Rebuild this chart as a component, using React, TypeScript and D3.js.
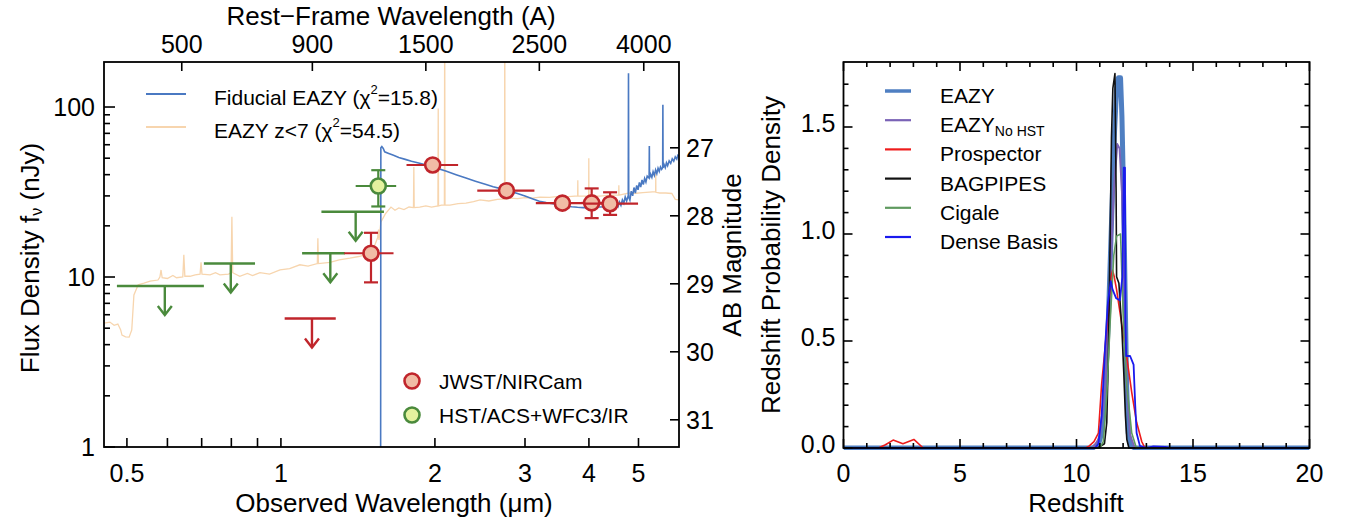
import React, { useEffect, useRef } from 'react';
import * as d3 from 'd3';

const WIDTH = 1346;
const HEIGHT = 521;
const FONT = '"Liberation Sans", Arial, Helvetica, sans-serif';

const zPhot = 11.8;

// observed wavelength (um), flux density (nJy)
const fiducialEazy: [number, number][] = [
  [0.451, 0.2], [1.566, 0.2], [1.568, 57.5], [1.575, 58.5], [1.585, 57.0], [1.595, 54.5],
  [1.62, 53.5], [1.66, 52.0], [1.70, 50.5], [1.75, 49.2], [1.80, 48.0], [1.85, 47.0],
  [1.90, 46.0], [1.95, 45.0], [2.00, 44.0], [2.10, 42.0], [2.20, 40.0], [2.30, 38.2],
  [2.40, 36.6], [2.50, 35.2], [2.60, 34.0], [2.70, 33.0], [2.80, 32.0], [2.90, 31.0],
  [3.00, 30.0], [3.10, 28.9], [3.20, 27.9], [3.30, 27.4], [3.40, 27.0], [3.50, 26.6],
  [3.60, 26.2], [3.70, 25.9], [3.80, 25.7], [3.90, 25.6], [4.00, 25.6], [4.10, 25.7],
  [4.20, 25.8], [4.30, 25.9], [4.40, 26.1], [4.50, 26.4],
  [4.53, 26.9], [4.56, 26.0], [4.59, 27.6], [4.62, 26.4], [4.65, 28.4], [4.68, 27.2],
  [4.71, 29.6], [4.74, 28.0], [4.775, 30.2], [4.78, 158], [4.785, 29.5], [4.81, 28.3],
  [4.84, 32.0], [4.87, 30.0], [4.90, 33.6], [4.93, 31.2], [4.96, 34.6], [4.99, 32.6],
  [5.02, 36.0], [5.05, 33.8], [5.08, 37.2], [5.11, 35.0], [5.14, 38.0], [5.17, 36.2],
  [5.20, 39.2], [5.245, 38.2], [5.25, 59], [5.255, 38.2], [5.28, 40.2], [5.31, 38.6],
  [5.34, 41.6], [5.37, 39.6], [5.40, 42.6], [5.43, 40.6], [5.46, 43.6], [5.49, 41.8],
  [5.52, 44.4], [5.55, 43.0], [5.575, 44.0], [5.58, 103], [5.585, 44.0], [5.61, 45.8],
  [5.64, 44.0], [5.67, 47.0], [5.70, 45.2], [5.74, 48.2], [5.78, 46.6], [5.82, 49.6],
  [5.86, 48.0], [5.90, 51.0], [5.94, 49.4], [5.97, 52.0], [6.0, 51.5],
];

const eazyLowZ: [number, number][] = [
  [0.451, 5.36], [0.463, 5.43], [0.472, 5.2], [0.480, 5.29], [0.486, 4.9], [0.489, 4.55],
  [0.497, 4.45], [0.505, 4.43], [0.511, 4.88], [0.516, 7.84], [0.526, 9.0], [0.540, 9.2],
  [0.555, 9.45], [0.575, 9.6], [0.580, 10.0], [0.583, 11.0], [0.586, 9.9], [0.600, 9.8],
  [0.615, 10.2], [0.625, 9.9], [0.643, 10.0], [0.646, 13.5], [0.649, 10.1], [0.664, 10.1],
  [0.680, 10.3], [0.695, 10.4], [0.698, 12.2], [0.701, 10.4], [0.727, 10.3], [0.745, 10.6],
  [0.760, 10.3], [0.790, 10.4], [0.799, 10.6], [0.802, 22.6], [0.805, 10.6], [0.831, 10.1],
  [0.860, 10.5], [0.880, 10.2], [0.910, 10.6], [0.950, 10.4], [0.996, 11.0], [1.04, 11.2],
  [1.089, 11.8], [1.13, 11.6], [1.178, 12.0], [1.181, 16.9], [1.184, 12.0], [1.247, 12.2],
  [1.30, 12.6], [1.364, 12.9], [1.42, 13.2], [1.459, 13.5], [1.50, 14.2], [1.526, 15.4],
  [1.545, 17.0], [1.552, 19.0], [1.555, 16.5], [1.568, 21.0], [1.60, 23.5], [1.641, 25.8],
  [1.671, 24.7], [1.70, 25.5], [1.74, 24.9], [1.78, 25.8], [1.816, 25.6], [1.819, 44.3],
  [1.822, 25.6], [1.868, 25.8], [1.92, 26.2], [1.97, 25.8], [2.027, 26.2], [2.03, 98],
  [2.033, 26.2], [2.06, 26.5], [2.087, 26.5], [2.09, 400], [2.093, 26.5], [2.14, 26.5],
  [2.22, 27.0], [2.30, 27.2], [2.38, 27.8], [2.45, 28.4], [2.55, 28.0], [2.65, 28.6],
  [2.736, 28.8], [2.739, 400], [2.742, 28.8], [2.801, 29.1], [2.90, 28.9], [3.00, 29.3],
  [3.10, 29.1], [3.208, 29.5], [3.35, 29.4], [3.50, 29.8], [3.65, 29.7], [3.802, 30.0],
  [3.805, 37.1], [3.808, 30.0], [3.90, 29.9], [3.995, 30.0], [3.998, 50.0], [4.001, 30.0],
  [4.10, 29.9], [4.20, 29.9], [4.35, 30.2], [4.50, 30.3], [4.574, 30.3], [4.577, 34.7],
  [4.580, 30.3], [4.70, 30.8], [4.799, 31.2], [4.95, 31.1], [5.10, 31.4], [5.25, 31.6],
  [5.401, 31.8], [5.404, 40.9], [5.407, 31.5], [5.50, 31.2], [5.65, 31.2], [5.809, 31.0],
  [5.90, 28.6], [6.0, 28.4],
];

// photometry: wave / band edges (um), flux and error range (nJy)
const nircamDetections = [
  { band: 'F150W', wave: 1.50, lo: 1.33, hi: 1.66, flux: 13.8, fluxLo: 9.3, fluxHi: 18.2 },
  { band: 'F200W', wave: 1.98, lo: 1.76, hi: 2.22, flux: 45.6, fluxLo: 43.8, fluxHi: 47.4 },
  { band: 'F277W', wave: 2.76, lo: 2.42, hi: 3.13, flux: 32.2, fluxLo: 30.8, fluxHi: 33.6 },
  { band: 'F356W', wave: 3.55, lo: 3.15, hi: 4.09, flux: 27.2, fluxLo: 25.5, fluxHi: 28.7 },
  { band: 'F410M', wave: 4.05, lo: 3.87, hi: 4.30, flux: 27.3, fluxLo: 22.2, fluxHi: 33.2 },
  { band: 'F444W', wave: 4.40, lo: 3.90, hi: 4.99, flux: 27.0, fluxLo: 23.2, fluxHi: 31.5 },
];
const nircamLimits = [
  { band: 'F115W', wave: 1.15, lo: 1.017, hi: 1.28, flux: 5.7 },
];
const hstDetections = [
  { band: 'F160W', wave: 1.55, lo: 1.40, hi: 1.68, flux: 34.3, fluxLo: 26.0, fluxHi: 42.5 },
];
const hstLimits = [
  { band: 'F606W', wave: 0.593, lo: 0.478, hi: 0.707, flux: 8.85 },
  { band: 'F814W', wave: 0.798, lo: 0.707, hi: 0.89, flux: 12.0 },
  { band: 'F125W', wave: 1.249, lo: 1.10, hi: 1.334, flux: 13.8 },
  { band: 'F140W', wave: 1.40, lo: 1.20, hi: 1.59, flux: 24.2 },
];

const obsTicks = [0.5, 0.6, 0.7, 0.8, 0.9, 1, 2, 3, 4, 5];
const obsLabels = [0.5, 1, 2, 3, 4, 5];
const restTicks = [500, 900, 1500, 2500, 4000];
const fluxMajor = [1, 10, 100];
const fluxMinor = [2, 3, 4, 5, 6, 7, 8, 9, 20, 30, 40, 50, 60, 70, 80, 90];
const abTicks = [27, 28, 29, 30, 31];

// redshift probability densities: [z, P(z)]
const pzEazy: [number, number][] = [
  [0, 0], [10.7, 0], [10.95, 0.02], [11.08, 0.07], [11.22, 0.22], [11.37, 0.61], [11.51, 1.08],
  [11.62, 1.45], [11.72, 1.68], [11.8, 1.73], [11.89, 1.73], [11.95, 1.55], [12.01, 1.24],
  [12.08, 0.77], [12.15, 0.30], [12.22, 0.07], [12.32, 0.01], [12.5, 0], [20, 0],
];
const pzEazyNoHst: [number, number][] = [
  [0, 0], [10.7, 0], [11.0, 0.05], [11.25, 0.3], [11.45, 0.8], [11.6, 1.2], [11.75, 1.42],
  [11.85, 1.4], [11.95, 1.2], [12.05, 0.75], [12.15, 0.3], [12.3, 0.06], [12.5, 0], [20, 0],
];
const pzProspector: [number, number][] = [
  [0, 0], [1.5, 0], [1.8, 0.015], [2.13, 0.037], [2.55, 0.02], [3.02, 0.04], [3.42, 0],
  [10.4, 0], [10.55, 0.01], [10.75, 0.03], [10.94, 0.07], [11.08, 0.30], [11.22, 0.46],
  [11.37, 0.64], [11.48, 0.80], [11.55, 0.83], [11.62, 0.80], [11.72, 0.74], [11.94, 0.58],
  [12.15, 0.43], [12.37, 0.26], [12.58, 0.12], [12.8, 0.03], [12.94, 0], [20, 0],
];
const pzBagpipes: [number, number][] = [
  [0, 0], [10.9, 0], [11.2, 0.02], [11.3, 0.12], [11.37, 0.45], [11.44, 0.95], [11.5, 1.45],
  [11.56, 1.68], [11.65, 1.75], [11.7, 1.2], [11.72, 0.8], [11.82, 0.77], [11.86, 0.7],
  [11.95, 0.55], [12.03, 0.35], [12.1, 0.15], [12.16, 0.04], [12.25, 0], [20, 0],
];
const pzCigale: [number, number][] = [
  [0, 0], [11.0, 0], [11.15, 0.03], [11.3, 0.25], [11.45, 0.6], [11.6, 0.9], [11.72, 0.99],
  [11.89, 1.0], [11.95, 0.8], [12.01, 0.6], [12.15, 0.3], [12.37, 0.07], [12.57, 0], [20, 0],
];
const pzDenseBasis: [number, number][] = [
  [0, 0], [10.8, 0], [10.94, 0.02], [11.08, 0.15], [11.22, 0.46], [11.35, 0.68], [11.47, 0.78],
  [11.55, 0.74], [11.7, 0.70], [11.86, 0.69], [11.97, 0.8], [12.03, 1.31], [12.08, 1.31],
  [12.1, 0.6], [12.13, 0.43], [12.3, 0.43], [12.45, 0.39], [12.52, 0.2], [12.58, 0.07],
  [12.72, 0.01], [13.0, 0], [13.3, 0.008], [13.8, 0.005], [14.0, 0], [20, 0],
];

const pzSeries = [
  { name: 'EAZY', sub: '', color: '#4f7fc2', width: 5, data: pzEazy },
  { name: 'EAZY', sub: 'No HST', color: '#7a62b6', width: 2, data: pzEazyNoHst },
  { name: 'Prospector', sub: '', color: '#ee1c1c', width: 1.6, data: pzProspector },
  { name: 'BAGPIPES', sub: '', color: '#111111', width: 1.6, data: pzBagpipes },
  { name: 'Cigale', sub: '', color: '#5f9a5f', width: 1.6, data: pzCigale },
  { name: 'Dense Basis', sub: '', color: '#1a1aee', width: 1.8, data: pzDenseBasis },
];
const zTicksMajor = [0, 5, 10, 15, 20];
const zTicksMinor = d3.range(0, 21).filter((v) => v % 5 !== 0);
const pTicksMajor = [0, 0.5, 1.0, 1.5];
const pTicksMinor = [0.1, 0.2, 0.3, 0.4, 0.6, 0.7, 0.8, 0.9, 1.1, 1.2, 1.3, 1.4, 1.6, 1.7];

const RED = '#c0252b';
const RED_FILL = '#f1bca5';
const GREEN = '#4a8a3c';
const GREEN_FILL = '#e4f29e';
const BLUE_MODEL = '#4a79c2';
const ORANGE_MODEL = '#f7d5ae';

const App: React.FC = () => {
  const svgRef = useRef<SVGSVGElement | null>(null);

  useEffect(() => {
    if (!svgRef.current) return;
    const svg = d3.select(svgRef.current);
    svg.selectAll('*').remove();
    svg.attr('width', WIDTH).attr('height', HEIGHT).style('font-family', FONT);

    // ---------- left panel: SED ----------
    const sed = { left: 104, right: 679, top: 62, bottom: 447 };
    const x = d3.scaleLog().domain([0.451, 6.0]).range([sed.left, sed.right]);
    const y = d3.scaleLog().domain([1, 184]).range([sed.bottom, sed.top]);
    const restToX = (a: number) => x((a * (1 + zPhot)) / 1e4);
    const magToY = (m: number) => y(Math.pow(10, (31.4 - m) / 2.5));

    svg.append('clipPath').attr('id', 'sed-clip')
      .append('rect')
      .attr('x', sed.left).attr('y', sed.top)
      .attr('width', sed.right - sed.left).attr('height', sed.bottom - sed.top);

    const plot = svg.append('g').attr('clip-path', 'url(#sed-clip)');
    const spec = d3.line<[number, number]>().x((d) => x(d[0])).y((d) => y(d[1]));

    plot.append('path').datum(eazyLowZ)
      .attr('d', spec).attr('fill', 'none')
      .attr('stroke', ORANGE_MODEL).attr('stroke-width', 1.3);
    plot.append('path').datum(fiducialEazy)
      .attr('d', spec).attr('fill', 'none')
      .attr('stroke', BLUE_MODEL).attr('stroke-width', 1.6);

    const drawLimits = (rows: typeof hstLimits, color: string) => {
      rows.forEach((d) => {
        const yy = y(d.flux);
        const xc = x(d.wave);
        const g = plot.append('g').attr('stroke', color).attr('stroke-width', 2.4).attr('fill', 'none');
        g.append('line').attr('x1', x(d.lo)).attr('x2', x(d.hi)).attr('y1', yy).attr('y2', yy);
        g.append('line').attr('x1', xc).attr('x2', xc).attr('y1', yy).attr('y2', yy + 29);
        g.append('path').attr('d', `M${xc - 7},${yy + 20} L${xc},${yy + 29} L${xc + 7},${yy + 20}`);
      });
    };
    drawLimits(hstLimits, GREEN);
    drawLimits(nircamLimits, RED);

    const drawPoints = (rows: typeof nircamDetections, stroke: string, fill: string) => {
      rows.forEach((d) => {
        const yy = y(d.flux);
        const xc = x(d.wave);
        const g = plot.append('g').attr('stroke', stroke).attr('stroke-width', 2.2);
        g.append('line').attr('x1', x(d.lo)).attr('x2', x(d.hi)).attr('y1', yy).attr('y2', yy);
        g.append('line').attr('x1', xc).attr('x2', xc).attr('y1', y(d.fluxLo)).attr('y2', y(d.fluxHi));
        [d.fluxLo, d.fluxHi].forEach((f) => {
          g.append('line').attr('x1', xc - 7).attr('x2', xc + 7).attr('y1', y(f)).attr('y2', y(f));
        });
        g.append('circle').attr('cx', xc).attr('cy', yy).attr('r', 7.5)
          .attr('fill', fill).attr('stroke-width', 2.6);
      });
    };
    drawPoints(hstDetections, GREEN, GREEN_FILL);
    drawPoints(nircamDetections, RED, RED_FILL);

    // frame
    svg.append('rect')
      .attr('x', sed.left).attr('y', sed.top)
      .attr('width', sed.right - sed.left).attr('height', sed.bottom - sed.top)
      .attr('fill', 'none').attr('stroke', '#000').attr('stroke-width', 1.8);

    const ticks = svg.append('g').attr('stroke', '#000').attr('stroke-width', 1.6);
    obsTicks.forEach((v) => {
      ticks.append('line').attr('x1', x(v)).attr('x2', x(v))
        .attr('y1', sed.bottom).attr('y2', sed.bottom - 9);
    });
    restTicks.forEach((v) => {
      ticks.append('line').attr('x1', restToX(v)).attr('x2', restToX(v))
        .attr('y1', sed.top).attr('y2', sed.top + 9);
    });
    fluxMajor.forEach((v) => {
      ticks.append('line').attr('x1', sed.left).attr('x2', sed.left + 11)
        .attr('y1', y(v)).attr('y2', y(v));
    });
    fluxMinor.forEach((v) => {
      ticks.append('line').attr('x1', sed.left).attr('x2', sed.left + 6)
        .attr('y1', y(v)).attr('y2', y(v));
    });
    abTicks.forEach((m) => {
      ticks.append('line').attr('x1', sed.right).attr('x2', sed.right - 9)
        .attr('y1', magToY(m)).attr('y2', magToY(m));
    });

    const labels = svg.append('g').attr('fill', '#000').attr('font-size', 25);
    obsLabels.forEach((v) => {
      labels.append('text').attr('x', x(v)).attr('y', 473)
        .attr('text-anchor', 'middle').attr('dominant-baseline', 'central').text(String(v));
    });
    restTicks.forEach((v) => {
      labels.append('text').attr('x', restToX(v)).attr('y', 44)
        .attr('text-anchor', 'middle').attr('dominant-baseline', 'central').text(String(v));
    });
    fluxMajor.forEach((v) => {
      labels.append('text').attr('x', sed.left - 9).attr('y', y(v))
        .attr('text-anchor', 'end').attr('dominant-baseline', 'central').text(String(v));
    });
    abTicks.forEach((m) => {
      labels.append('text').attr('x', sed.right + 7).attr('y', magToY(m))
        .attr('text-anchor', 'start').attr('dominant-baseline', 'central').text(String(m));
    });

    const titles = svg.append('g').attr('fill', '#000').attr('font-size', 26);
    titles.append('text').attr('x', 391).attr('y', 16)
      .attr('text-anchor', 'middle').attr('dominant-baseline', 'central')
      .text('Rest\u2212Frame Wavelength (A)');
    titles.append('text').attr('x', 394).attr('y', 503)
      .attr('text-anchor', 'middle').attr('dominant-baseline', 'central')
      .text('Observed Wavelength (\u03bcm)');
    const fluxTitle = titles.append('text')
      .attr('transform', 'translate(30,258) rotate(-90)')
      .attr('text-anchor', 'middle').attr('dominant-baseline', 'central');
    fluxTitle.append('tspan').text('Flux Density f');
    fluxTitle.append('tspan').attr('font-size', 16).attr('dy', 6).text('\u03bd');
    fluxTitle.append('tspan').attr('dy', -6).text(' (nJy)');
    titles.append('text')
      .attr('transform', 'translate(732,255) rotate(-90)')
      .attr('text-anchor', 'middle').attr('dominant-baseline', 'central')
      .text('AB Magnitude');

    // legends
    const leg = svg.append('g').attr('font-size', 21).attr('fill', '#000');
    const modelLegend = [
      { color: BLUE_MODEL, label: 'Fiducial EAZY (\u03c7', chi: '15.8', yy: 94 },
      { color: ORANGE_MODEL, label: 'EAZY z<7 (\u03c7', chi: '54.5', yy: 127 },
    ];
    modelLegend.forEach((m) => {
      leg.append('line').attr('x1', 146).attr('x2', 186).attr('y1', m.yy).attr('y2', m.yy)
        .attr('stroke', m.color).attr('stroke-width', 2);
      const t = leg.append('text').attr('x', 214).attr('y', m.yy + 3).attr('dominant-baseline', 'central');
      t.append('tspan').text(m.label);
      t.append('tspan').attr('font-size', 13).attr('dy', -8).text('2');
      t.append('tspan').attr('dy', 8).text(`=${m.chi})`);
    });
    const pointLegend = [
      { stroke: RED, fill: RED_FILL, label: 'JWST/NIRCam', yy: 381 },
      { stroke: GREEN, fill: GREEN_FILL, label: 'HST/ACS+WFC3/IR', yy: 415 },
    ];
    pointLegend.forEach((p) => {
      leg.append('circle').attr('cx', 412).attr('cy', p.yy).attr('r', 7.5)
        .attr('fill', p.fill).attr('stroke', p.stroke).attr('stroke-width', 2.6);
      leg.append('text').attr('x', 439).attr('y', p.yy).attr('dominant-baseline', 'central').text(p.label);
    });

    // ---------- right panel: P(z) ----------
    const pz = { left: 843.5, right: 1309.5, top: 62, bottom: 448 };
    const zx = d3.scaleLinear().domain([0, 20]).range([pz.left, pz.right]);
    const py = d3.scaleLinear().domain([0, 1.8]).range([pz.bottom, pz.bottom - 1.8 * 214]);

    svg.append('clipPath').attr('id', 'pz-clip')
      .append('rect')
      .attr('x', pz.left).attr('y', pz.top - 2)
      .attr('width', pz.right - pz.left).attr('height', pz.bottom - pz.top + 4);
    const pzPlot = svg.append('g').attr('clip-path', 'url(#pz-clip)');
    const pzLine = d3.line<[number, number]>().x((d) => zx(d[0])).y((d) => py(d[1]));
    pzSeries.forEach((s) => {
      pzPlot.append('path').datum(s.data)
        .attr('d', pzLine).attr('fill', 'none')
        .attr('stroke', s.color).attr('stroke-width', s.width)
        .attr('stroke-linejoin', 'round');
    });

    svg.append('rect')
      .attr('x', pz.left).attr('y', pz.top)
      .attr('width', pz.right - pz.left).attr('height', pz.bottom - pz.top)
      .attr('fill', 'none').attr('stroke', '#000').attr('stroke-width', 1.8);

    const pzTicks = svg.append('g').attr('stroke', '#000').attr('stroke-width', 1.6);
    const tickX = (v: number, len: number) => {
      pzTicks.append('line').attr('x1', zx(v)).attr('x2', zx(v)).attr('y1', pz.bottom).attr('y2', pz.bottom - len);
      pzTicks.append('line').attr('x1', zx(v)).attr('x2', zx(v)).attr('y1', pz.top).attr('y2', pz.top + len);
    };
    const tickY = (v: number, len: number) => {
      pzTicks.append('line').attr('x1', pz.left).attr('x2', pz.left + len).attr('y1', py(v)).attr('y2', py(v));
      pzTicks.append('line').attr('x1', pz.right).attr('x2', pz.right - len).attr('y1', py(v)).attr('y2', py(v));
    };
    zTicksMajor.forEach((v) => tickX(v, 9));
    zTicksMinor.forEach((v) => tickX(v, 5));
    pTicksMajor.forEach((v) => tickY(v, 9));
    pTicksMinor.forEach((v) => tickY(v, 5));

    const pzLabels = svg.append('g').attr('fill', '#000').attr('font-size', 25);
    zTicksMajor.forEach((v) => {
      pzLabels.append('text').attr('x', zx(v)).attr('y', 473)
        .attr('text-anchor', 'middle').attr('dominant-baseline', 'central').text(String(v));
    });
    pTicksMajor.forEach((v) => {
      pzLabels.append('text').attr('x', pz.left - 8).attr('y', py(v) - 4)
        .attr('text-anchor', 'end').attr('dominant-baseline', 'central').text(v.toFixed(1));
    });
    titles.append('text').attr('x', 1076).attr('y', 503)
      .attr('text-anchor', 'middle').attr('dominant-baseline', 'central').text('Redshift');
    titles.append('text')
      .attr('transform', 'translate(771,255) rotate(-90)')
      .attr('text-anchor', 'middle').attr('dominant-baseline', 'central')
      .text('Redshift Probability Density');

    const pzLeg = svg.append('g').attr('font-size', 21).attr('fill', '#000');
    pzSeries.forEach((s, i) => {
      const yy = 91 + i * 29.2;
      pzLeg.append('line').attr('x1', 885).attr('x2', 911).attr('y1', yy).attr('y2', yy)
        .attr('stroke', s.color).attr('stroke-width', s.width > 3 ? 3.5 : 2.2);
      const t = pzLeg.append('text').attr('x', 940).attr('y', yy + 4).attr('dominant-baseline', 'central');
      t.append('tspan').text(s.name);
      if (s.sub) t.append('tspan').attr('font-size', 14).attr('dy', 7).text(s.sub);
    });
  }, []);

  return (
    <svg
      ref={svgRef}
      style={{ position: 'absolute', left: 0, top: 0, background: '#fff' }}
    ></svg>
  );
};

export default App;
